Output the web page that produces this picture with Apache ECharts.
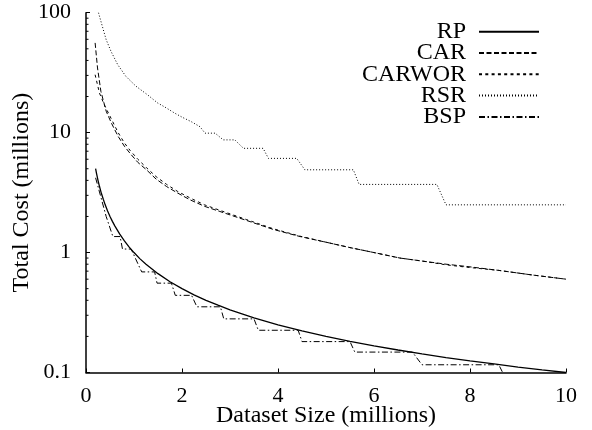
<!DOCTYPE html>
<html><head><meta charset="utf-8">
<script src="https://cdn.jsdelivr.net/npm/echarts@6/dist/echarts.min.js"></script>
<style>html,body{margin:0;padding:0;background:#fff}#c{width:592px;height:430px}</style>
</head><body><div id="c"></div>
<script>
// Data (x: dataset size in millions, y: total cost in millions)
const seriesNames = ['RP', 'CAR', 'CARWOR', 'RSR', 'BSP'];
const xTickLabels = ['0', '2', '4', '6', '8', '10'];
const yTickLabels = ['0.1', '1', '10', '100'];
const yMinorTicks = [0.2,0.3,0.4,0.5,0.6,0.7,0.8,0.9,2,3,4,5,6,7,8,9,20,30,40,50,60,70,80,90];

const rp = [[0.2,5],[0.22,4.55],[0.25,4],[0.28,3.57],[0.32,3.12],[0.36,2.78],[0.4,2.5],[0.45,2.22],
  [0.5,2],[0.55,1.82],[0.6,1.67],[0.7,1.43],[0.8,1.25],[0.9,1.11],[1,1],[1.12,0.89],
  [1.25,0.8],[1.5,0.667],[1.75,0.571],[2,0.5],[2.25,0.444],[2.5,0.4],[2.75,0.364],[3,0.333],
  [3.5,0.286],[4,0.25],[4.5,0.222],[5,0.2],[5.5,0.182],[6,0.167],[6.5,0.154],[7,0.143],
  [7.5,0.133],[8,0.125],[8.5,0.118],[9,0.111],[9.5,0.105],[10,0.1]];
const car = [[0.19,56],[0.24,34.6],[0.31,22.1],[0.42,15.1],[0.53,12],[0.67,9.3],[0.8,7.7],[0.92,6.7],
  [1.08,5.65],[1.26,4.9],[1.46,4.1],[1.68,3.55],[1.9,3.15],[2.17,2.75],[2.47,2.43],[2.79,2.2],
  [3.35,1.85],[3.9,1.56],[4.46,1.36],[5.0,1.22],[5.5,1.1],[6.0,1.0],[6.54,0.9],[7.0,0.85],
  [7.5,0.8],[8.0,0.76],[8.6,0.71],[9.3,0.65],[10,0.6]];
const carwor = [[0.19,30.4],[0.28,21.4],[0.38,17.1],[0.52,13.2],[0.67,10],[0.8,8.2],[0.92,7.1],
  [1.08,6.0],[1.26,5.1],[1.46,4.3],[1.68,3.7],[1.9,3.25],[2.17,2.85],[2.47,2.5],[2.79,2.25],
  [3.35,1.88],[3.9,1.58],[4.46,1.37],[5.0,1.22],[5.5,1.1],[6.0,1.0],[6.54,0.9],[7.0,0.85],
  [7.5,0.79],[8.0,0.75],[8.6,0.71],[9.3,0.65],[10,0.6]];
const rsr = [[0.26,100],[0.35,74.6],[0.42,59.6],[0.52,47.7],[0.66,36.9],[0.83,29.5],[1.04,24.4],
  [1.28,20.7],[1.49,17.7],[1.67,16.1],[1.84,14.6],[2.01,13.4],[2.2,12.3],
  [2.375,11.2],[2.48,9.9],[2.69,9.9],[2.86,8.7],[3.1,8.7],[3.28,7.4],[3.69,7.4],[3.8,6.1],[4.39,6.1],
  [4.56,4.9],[5.57,4.9],[5.69,3.7],[7.31,3.7],[7.5,2.5],[10,2.5]];
const bsp = [[0.2,4.2],[0.3,3.0],[0.42,2.0],[0.56,1.36],[0.71,1.36],[0.76,1.07],[0.94,1.07],[1.16,0.69],
  [1.43,0.69],[1.48,0.556],[1.78,0.556],[1.86,0.44],[2.2,0.44],[2.31,0.353],[2.8,0.353],[2.87,0.28],
  [3.5,0.28],[3.59,0.225],[4.42,0.225],[4.5,0.181],[5.5,0.181],[5.6,0.148],[6.8,0.148],[7.0,0.116],
  [8.6,0.116],[8.68,0.1]];

const FONT = 'Liberation Serif';
const chart = echarts.init(document.getElementById('c'), null, {renderer: 'canvas'});

function lineSeries(name, data, width, type) {
  return {
    name: name, type: 'line', data: data, symbol: 'none', symbolSize: 0, showSymbol: false,
    smooth: false, animation: false, clip: true,
    lineStyle: {color: '#000', width: width, type: type},
    itemStyle: {color: '#000'}
  };
}

chart.setOption({
  animation: false,
  backgroundColor: '#fff',
  textStyle: {fontFamily: FONT, color: '#000'},
  grid: {left: 86, right: 26, top: 12.7, bottom: 57.5, outerBoundsMode: 'none', containLabel: false},
  legend: {
    data: seriesNames,
    orient: 'vertical', align: 'right', right: 52, top: 19.7, padding: 0,
    itemWidth: 60, itemHeight: 10, itemGap: -2.7,
    itemStyle: {opacity: 0},
    textStyle: {fontFamily: FONT, fontSize: 24, color: '#000', padding: [0, 8, 0, 0]},
    selectedMode: false
  },
  xAxis: {
    type: 'value', min: 0, max: 10, interval: 2,
    name: 'Dataset Size (millions)', nameLocation: 'middle', nameGap: 31, nameMoveOverlap: false,
    nameTextStyle: {fontFamily: FONT, fontSize: 24, color: '#000'},
    axisLine: {show: true, lineStyle: {color: '#000', width: 1.5}},
    axisTick: {show: true, inside: true, length: 4, lineStyle: {color: '#000', width: 1}},
    axisLabel: {fontFamily: FONT, fontSize: 22, color: '#000', margin: 13,
      formatter: function (v) { return xTickLabels[Math.round(v / 2)] ?? String(v); }},
    splitLine: {show: false}
  },
  yAxis: {
    type: 'log', logBase: 10, min: 0.1, max: 100,
    name: 'Total Cost (millions)', nameLocation: 'middle', nameGap: 52, nameMoveOverlap: false,
    nameTextStyle: {fontFamily: FONT, fontSize: 24, color: '#000'},
    axisLine: {show: true, lineStyle: {color: '#000', width: 1.5}},
    axisTick: {show: true, inside: true, length: 4, lineStyle: {color: '#000', width: 1}},
    axisLabel: {fontFamily: FONT, fontSize: 22, color: '#000', margin: 15,
      formatter: function (v) {
        const k = Math.round(Math.log10(v)) + 1;
        return yTickLabels[k] ?? String(v);
      }},
    splitLine: {show: false}
  },
  series: [
    lineSeries('RP', rp, 1.3, 'solid'),
    lineSeries('CAR', car, 1, [5, 2.5]),
    lineSeries('CARWOR', carwor, 1, [3, 3.3]),
    lineSeries('RSR', rsr, 1, [1, 2]),
    lineSeries('BSP', bsp, 1, [6, 2.5, 1.5, 2.5]),
    {
      name: 'minorTicks', type: 'custom', coordinateSystem: 'cartesian2d',
      data: yMinorTicks.map(v => [0, v]), encode: {x: 0, y: 1},
      silent: true, clip: false, z: 5,
      renderItem: function (params, api) {
        const p = api.coord([0, api.value(1)]);
        return {type: 'line', shape: {x1: p[0], y1: p[1], x2: p[0] + 2.5, y2: p[1]},
          style: {stroke: '#000', lineWidth: 1}};
      }
    }
  ]
});
</script>
</body></html>
